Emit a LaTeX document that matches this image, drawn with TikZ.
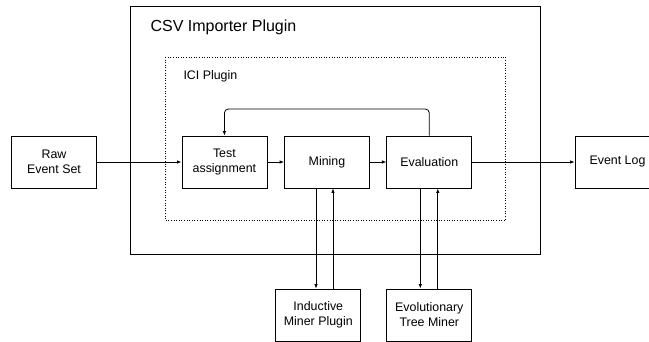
\documentclass[tikz,border=0pt]{standalone}
\usepackage{fontspec}
\setmainfont{Liberation Sans}
\usetikzlibrary{arrows.meta}

\begin{document}
\begin{tikzpicture}[x=1pt,y=-1pt,
  blk/.style={draw,line width=0.8pt,minimum width=85pt,minimum height=52pt,align=center,font=\fontsize{12.4}{15}\selectfont},
  arr/.style={-{Latex[length=4.5pt,width=3.5pt]},line width=0.8pt}]
\useasboundingbox (0,0) rectangle (649,341);
\draw[line width=0.8pt] (130,6) rectangle (540,254);
\node[anchor=west,font=\fontsize{16}{19}\selectfont] (csv) at (147,27) {CSV Importer Plugin};
\draw[dotted,line width=0.6pt] (165,57) rectangle (505.5,220);
\node[anchor=west,font=\fontsize{12.4}{15}\selectfont] (ici) at (180,76) {ICI Plugin};
\node[blk] (raw) at (54,162) {Raw\\Event Set};
\node[blk] (test) at (224.4,162) {Test\\assignment};
\node[blk] (mining) at (327,162) {Mining};
\node[blk] (eval) at (429.3,162) {Evaluation};
\node[blk] (log) at (617.5,162) {Event Log};
\node[blk] (ind) at (318.3,315) {Inductive\\Miner Plugin};
\node[blk] (evo) at (429.3,315) {Evolutionary\\Tree Miner};
\coordinate (loop) at (320,109);
\coordinate (m1) at (316,0);
\coordinate (m2) at (333,0);
\draw[arr] (raw) -- (test);
\draw[arr] (test) -- (mining);
\draw[arr] (mining) -- (eval);
\draw[arr] (eval) -- (log);
\draw[arr,rounded corners=4pt] (eval.north) |- (loop) -| (test.north);
\draw[arr] (mining.south -| m1) -- (ind.north -| m1);
\draw[arr] (ind.north -| m2) -- (mining.south -| m2);
\draw[arr] ([xshift=-9pt]eval.south) -- ([xshift=-9pt]evo.north);
\draw[arr] ([xshift=8.5pt]evo.north) -- ([xshift=8.5pt]eval.south);
\end{tikzpicture}
\end{document}
